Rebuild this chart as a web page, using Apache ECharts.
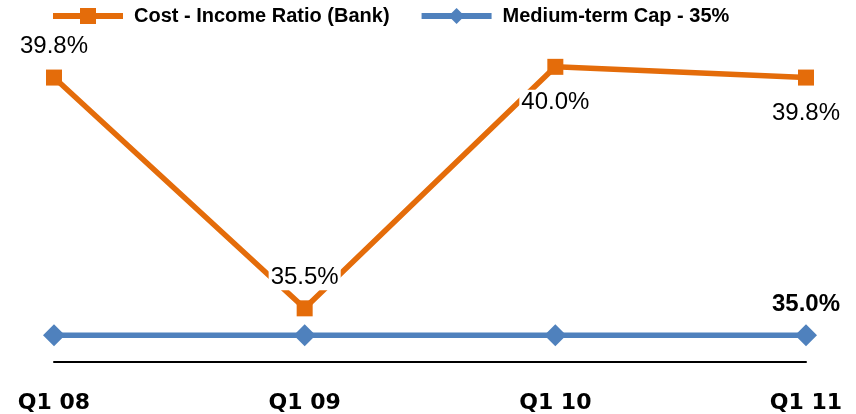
<!DOCTYPE html>
<html>
<head>
<meta charset="utf-8">
<script src="https://cdn.jsdelivr.net/npm/echarts@6/dist/echarts.min.js"></script>
<style>
  html, body { margin: 0; padding: 0; background: #fff; }
  #chart { width: 856px; height: 414px; }
</style>
</head>
<body>
<div id="chart"></div>
<script>
// Quarterly cost-income ratio of the bank against the medium-term cap
const quarters = ['Q1 08', 'Q1 09', 'Q1 10', 'Q1 11'];
const costIncomeRatio = [39.8, 35.5, 40.0, 39.8];
const mediumTermCap = [35.0, 35.0, 35.0, 35.0];
const seriesNames = ['Cost - Income Ratio (Bank)', 'Medium-term Cap - 35%'];

const ORANGE = '#E46C0A';
const BLUE = '#4F81BD';
const labelFont = 'Liberation Sans, Arial, sans-serif';

// Label placement per point of the ratio series
const ratioLabelPos = ['top', 'top', 'bottom', 'bottom'];
const ratioLabelDist = [10, 10, 15, 15];

const ratioData = costIncomeRatio.map((v, i) => ({
  value: v,
  label: {
    show: true,
    position: ratioLabelPos[i],
    distance: ratioLabelDist[i]
  }
}));

// Only the latest cap value is annotated
const capData = mediumTermCap.map((v, i) => ({
  value: v,
  label: {
    show: i === mediumTermCap.length - 1,
    position: 'top',
    distance: 8
  }
}));

const chart = echarts.init(document.getElementById('chart'), null, { renderer: 'canvas' });

chart.setOption({
  animation: false,
  backgroundColor: '#ffffff',
  grid: { left: 54, right: 50, top: 40, bottom: 52, containLabel: false },
  legend: {
    left: 50,
    top: 6,
    padding: 0,
    itemWidth: 70,
    itemHeight: 20,
    itemGap: 29,
    data: seriesNames,
    lineStyle: { width: 6 },
    textStyle: {
      fontFamily: labelFont,
      fontWeight: 'bold',
      fontSize: 20,
      color: '#000',
      padding: [0, 0, 0, 6]
    }
  },
  xAxis: {
    type: 'category',
    data: quarters,
    boundaryGap: false,
    axisLine: { show: true, lineStyle: { color: '#000', width: 2 } },
    axisTick: { show: false },
    splitLine: { show: false },
    axisLabel: {
      margin: 30,
      fontFamily: 'DejaVu Sans, sans-serif',
      fontWeight: 'bold',
      fontSize: 22,
      color: '#000'
    }
  },
  yAxis: {
    type: 'value',
    min: 34.5,
    max: 40.5,
    show: false,
    splitLine: { show: false }
  },
  series: [
    {
      name: seriesNames[0],
      type: 'line',
      data: ratioData,
      symbol: 'rect',
      symbolSize: 16,
      lineStyle: { color: ORANGE, width: 5.5 },
      itemStyle: { color: ORANGE },
      z: 3,
      label: {
        formatter: p => p.value.toFixed(1) + '%',
        fontFamily: labelFont,
        fontSize: 24,
        color: '#000',
        backgroundColor: '#fff',
        padding: [1, 2]
      }
    },
    {
      name: seriesNames[1],
      type: 'line',
      data: capData,
      symbol: 'diamond',
      symbolSize: 22,
      lineStyle: { color: BLUE, width: 5.5 },
      itemStyle: { color: BLUE },
      z: 2,
      label: {
        formatter: p => p.value.toFixed(1) + '%',
        fontFamily: labelFont,
        fontWeight: 'bold',
        fontSize: 24,
        color: '#000'
      }
    }
  ]
});
</script>
</body>
</html>
